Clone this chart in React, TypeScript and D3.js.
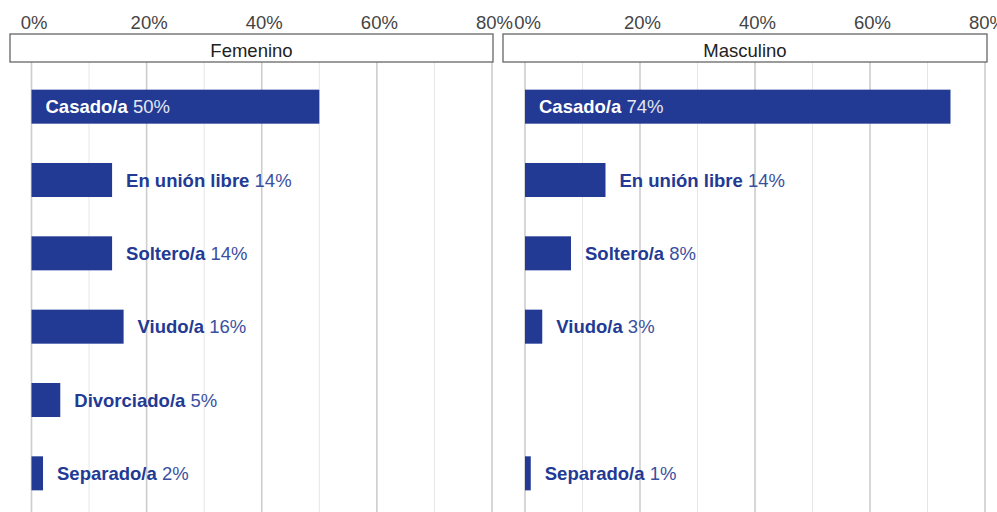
import React from 'react';
import * as d3 from 'd3';

// data
const categories = ['Casado/a', 'En unión libre', 'Soltero/a', 'Viudo/a', 'Divorciado/a', 'Separado/a'];
const femenino = [50, 14, 14, 16, 5, 2];
const masculino = [74, 14, 8, 3, null, 1];
const panelNames = ['Femenino', 'Masculino'];

const width = 997;
const height = 512;
const barColor = '#223a94';
const font = '"Liberation Sans", Arial, Helvetica, sans-serif';

// panel layout: [x of 0%, x of 80%, strip left, strip right]
const panels = [
  { name: panelNames[0], values: femenino, x0: 31.5, x1: 492, s0: 10, s1: 493 },
  { name: panelNames[1], values: masculino, x0: 525, x1: 985, s0: 503, s1: 987 },
];

const y = d3
  .scaleBand<string>()
  .domain(categories)
  .range([70, 510])
  .paddingInner(0.536)
  .paddingOuter(0.268);

function Panel({ p }: { p: typeof panels[number] }) {
  const x = d3.scaleLinear().domain([0, 80]).range([p.x0, p.x1]);
  const major = x.ticks(4);
  const minor = x.ticks(8).filter((t) => !major.includes(t));
  const fmt = (v: number) => v + '%';

  return (
    <g>
      {minor.map((t) => (
        <line key={'mn' + t} x1={x(t)} x2={x(t)} y1={62} y2={height} stroke="#e6e6e6" strokeWidth={1} />
      ))}
      {major.map((t) => (
        <line key={'mj' + t} x1={x(t)} x2={x(t)} y1={62} y2={height} stroke="#cdcdcd" strokeWidth={1.6} />
      ))}
      {major.map((t) => (
        <text key={'tl' + t} x={x(t) + 2.5} y={29} textAnchor="middle" fontSize={18.5} fill="#444" fontFamily={font}>
          {fmt(t)}
        </text>
      ))}
      <rect x={p.s0} y={34} width={p.s1 - p.s0} height={28} fill="#fff" stroke="#666" strokeWidth={1.3} />
      <text x={(p.s0 + p.s1) / 2} y={57} textAnchor="middle" fontSize={18.5} fill="#222" fontFamily={font}>
        {p.name}
      </text>
      {categories.map((c, i) => {
        const v = p.values[i];
        if (v == null) return null;
        const inside = v >= 40;
        const by = y(c)!;
        const bw = y.bandwidth();
        const lx = inside ? x(0) + 14 : x(v) + 14;
        return (
          <g key={c}>
            <rect x={x(0)} y={by} width={x(v) - x(0)} height={bw} fill={barColor} />
            <text
              x={lx}
              y={by + bw / 2 + 6.5}
              fontSize={18.5}
              fontFamily={font}
              fill={inside ? '#fff' : barColor}
            >
              <tspan fontWeight="bold">{c}</tspan>
              <tspan fill={inside ? '#e4e7f2' : '#3b4f9f'}>{' ' + fmt(v)}</tspan>
            </text>
          </g>
        );
      })}
    </g>
  );
}

export default function App() {
  return (
    <div style={{ position: 'absolute', left: 0, top: 0 }}>
      <svg width={width} height={height} style={{ display: 'block', background: '#fff' }}>
        {panels.map((p) => (
          <Panel key={p.name} p={p} />
        ))}
      </svg>
    </div>
  );
}
